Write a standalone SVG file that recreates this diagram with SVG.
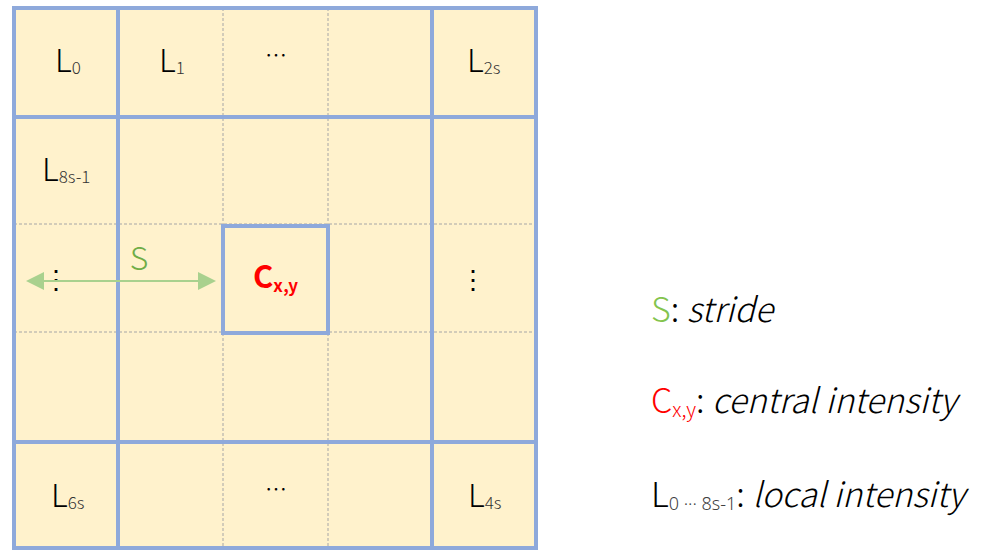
<svg xmlns="http://www.w3.org/2000/svg" width="984" height="550" viewBox="0 0 984 550">
<style>
.bg{fill:#FFF2CC}
.grid{stroke:#8EA9DB;stroke-width:4;fill:none}
.dash{stroke:#A6A6A6;stroke-width:1;stroke-dasharray:3 2}
.t{font-family:"Noto Sans CJK SC","Noto Sans",sans-serif;font-weight:300;fill:#000}
.L{font-size:32px}
.sub{font-size:17px;fill:#333}
.leg{font-size:34px}
.it{font-style:italic}
.lsub{font-size:20px}
.conn{stroke:#A9D18E;stroke-width:2}
</style>
<defs>
<marker id="ah" viewBox="0 0 18 18" refX="1" refY="9" markerWidth="18" markerHeight="18" markerUnits="userSpaceOnUse" orient="auto-start-reverse">
<path d="M0,0 L18,9 L0,18 z" fill="#A9D18E"/>
</marker>
</defs>
<g id="grid">
<rect class="bg" x="14" y="8" width="522" height="540"/>
<line class="dash" x1="223" y1="8" x2="223" y2="548"/>
<line class="dash" x1="328" y1="8" x2="328" y2="548"/>
<line class="dash" x1="14" y1="224" x2="536" y2="224"/>
<line class="dash" x1="14" y1="332" x2="536" y2="332"/>
<rect class="grid" x="14" y="8" width="522" height="540"/>
<line class="grid" x1="118" y1="8" x2="118" y2="548"/>
<line class="grid" x1="432" y1="8" x2="432" y2="548"/>
<line class="grid" x1="14" y1="117" x2="536" y2="117"/>
<line class="grid" x1="14" y1="442" x2="536" y2="442"/>
</g>
<g id="center">
<rect class="grid" x="223" y="226" width="105" height="107"/>
<text class="t" x="253" y="288" style="font-size:31px;font-weight:bold;fill:#FF0000">C<tspan dy="4" style="font-size:17px">x,y</tspan></text>
</g>
<g id="L0"><text class="t L" x="55" y="72">L<tspan class="sub" dy="2">0</tspan></text></g>
<g id="L1"><text class="t L" x="159" y="72">L<tspan class="sub" dy="2">1</tspan></text></g>
<g id="top-ellipsis"><text class="t" x="276" y="63" text-anchor="middle" style="font-size:22px">…</text></g>
<g id="L2s"><text class="t L" x="467" y="72">L<tspan class="sub" dy="2">2s</tspan></text></g>
<g id="L8s-1"><text class="t L" x="42" y="181">L<tspan class="sub" dy="2">8s-1</tspan></text></g>
<g id="left-vellipsis"><text class="t" x="56" y="289" text-anchor="middle" style="font-size:26px">⋮</text></g>
<g id="right-vellipsis"><text class="t" x="473" y="289" text-anchor="middle" style="font-size:26px">⋮</text></g>
<g id="L6s"><text class="t L" x="51" y="507">L<tspan class="sub" dy="2">6s</tspan></text></g>
<g id="bottom-ellipsis"><text class="t" x="276" y="497" text-anchor="middle" style="font-size:22px">…</text></g>
<g id="L4s"><text class="t L" x="468" y="507">L<tspan class="sub" dy="2">4s</tspan></text></g>
<g id="connectors">
<line class="conn" x1="43" y1="281" x2="199" y2="281" marker-start="url(#ah)" marker-end="url(#ah)"/>
</g>
<g id="stride-label"><text class="t" x="139" y="270" text-anchor="middle" style="font-size:32px;fill:#70AD47">S</text></g>
<g id="legend">
<text class="t leg" x="651" y="322"><tspan style="fill:#84C44E">S</tspan>: <tspan class="it">stride</tspan></text>
<text class="t leg" x="651" y="413"><tspan style="fill:#FF0000">C</tspan><tspan class="lsub" dy="4" style="fill:#FF0000">x,y</tspan><tspan dy="-4">: </tspan><tspan class="it">central intensity</tspan></text>
<text class="t leg" x="651" y="507">L<tspan dy="3" style="font-size:18px;fill:#404040;font-family:'Noto Sans',sans-serif">0 ··· 8s-1</tspan><tspan dy="-3">: </tspan><tspan class="it">local intensity</tspan></text>
</g>
</svg>
